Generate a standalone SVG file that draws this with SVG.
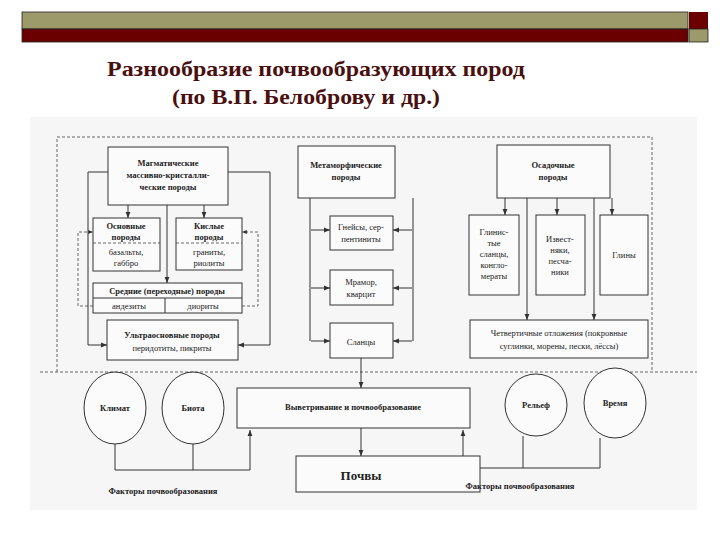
<svg xmlns="http://www.w3.org/2000/svg" width="720" height="540" viewBox="0 0 720 540">
<defs>
<marker id="a" viewBox="0 0 10 10" refX="10" refY="5" markerWidth="6" markerHeight="6" orient="auto"><path d="M0,1L10,5L0,9z" fill="#333"/></marker>
<style>
.b{fill:#fbfbfb;stroke:#333;stroke-width:1}
.l{fill:none;stroke:#333;stroke-width:1}
.d{fill:none;stroke:#444;stroke-width:0.8;stroke-dasharray:3,2}
text{font-family:'Liberation Serif','DejaVu Serif',serif;font-size:8.5px;fill:#222;text-anchor:middle}
.t{font-size:21px;font-weight:bold;fill:#4a0f0f;text-anchor:start}
.bd{font-weight:bold}
</style>
</defs>
<rect width="720" height="540" fill="#fff"/>
<rect x="22" y="12" width="666" height="17" fill="#9c9a6b" stroke="#222" stroke-width="0.8"/>
<rect x="22" y="29" width="666" height="13" fill="#6b0000" stroke="#222" stroke-width="0.8"/>
<rect x="689" y="12" width="19" height="17" fill="#6b0000"/>
<rect x="689" y="29" width="19" height="13" fill="#9c9a6b" stroke="#222" stroke-width="0.8"/>
<text class="t" x="107" y="76" textLength="418" lengthAdjust="spacingAndGlyphs">Разнообразие почвообразующих пород</text>
<text class="t" x="172" y="104" textLength="268" lengthAdjust="spacingAndGlyphs">(по В.П. Белоброву и др.)</text>
<rect x="30" y="117" width="667" height="393" fill="#f6f6f6"/>
<path class="d" d="M40,372H697M57,372V137H652V372"/>
<g id="connectors">
<path class="l" d="M108,172H88V345H107" marker-end="url(#a)"/>
<path class="l" d="M228,172H270V345H238" marker-end="url(#a)"/>
<path class="l" d="M128,205V218" marker-end="url(#a)"/>
<path class="l" d="M204,205V218" marker-end="url(#a)"/>
<path class="l" d="M167,205V283" marker-end="url(#a)"/>
<path class="d" d="M93,306H78V232H93" marker-end="url(#a)"/>
<path class="d" d="M242,306H258V232H242" marker-end="url(#a)"/>
<path class="l" d="M310,198V341M413,198V341"/>
<path class="l" d="M311,230H330" marker-end="url(#a)"/><path class="l" d="M311,288H330" marker-end="url(#a)"/><path class="l" d="M311,341H330" marker-end="url(#a)"/>
<path class="l" d="M412,230H393" marker-end="url(#a)"/><path class="l" d="M412,288H393" marker-end="url(#a)"/><path class="l" d="M412,341H393" marker-end="url(#a)"/>
<path class="l" d="M505,198V215" marker-end="url(#a)"/>
<path class="l" d="M557,198V215" marker-end="url(#a)"/>
<path class="l" d="M612,198V215" marker-end="url(#a)"/>
<path class="l" d="M527,198V320" marker-end="url(#a)"/>
<path class="l" d="M594,198V320" marker-end="url(#a)"/>
<path class="l" d="M361,358V388" marker-end="url(#a)"/>
<path class="l" d="M361,428V456" marker-end="url(#a)"/>
<path class="l" d="M115,444V470H250V430" marker-end="url(#a)"/>
<path class="l" d="M193,444V470"/>
<path class="l" d="M600,438V468H463V430" marker-end="url(#a)"/>
<path class="l" d="M523,436V468"/>
</g>
<g id="magm"><rect class="b" x="108" y="147" width="120" height="58"/><text class="bd" x="168" y="166">Магматические</text><text class="bd" x="168" y="178">массивно-кристалли-</text><text class="bd" x="168" y="190">ческие породы</text></g>
<g id="osn"><rect class="b" x="93" y="218" width="67" height="53"/><line class="d" x1="93" y1="243" x2="160" y2="243"/><text class="bd" x="126" y="229">Основные</text><text class="bd" x="126" y="240">породы</text><text x="126" y="255">базальты,</text><text x="126" y="266">габбро</text></g>
<g id="kisl"><rect class="b" x="176" y="218" width="66" height="52"/><line class="d" x1="176" y1="243" x2="242" y2="243"/><text class="bd" x="209" y="229">Кислые</text><text class="bd" x="209" y="240">породы</text><text x="209" y="255">граниты,</text><text x="209" y="266">риолиты</text></g>
<g id="sred"><rect class="b" x="93" y="283" width="149" height="30"/><line class="l" x1="93" y1="298" x2="242" y2="298"/><line class="l" x1="165" y1="298" x2="165" y2="313"/><text class="bd" x="167" y="294">Средние (переходные) породы</text><text x="129" y="309">андезиты</text><text x="203" y="309">диориты</text></g>
<g id="ultra"><rect class="b" x="107" y="320" width="131" height="40"/><text class="bd" x="172" y="338">Ультраосновные породы</text><text x="172" y="351">перидотиты, пикриты</text></g>
<g id="meta"><rect class="b" x="298" y="146" width="97" height="52"/><text class="bd" x="346" y="168">Метаморфические</text><text class="bd" x="346" y="180">породы</text></g>
<g id="gneis"><rect class="b" x="330" y="216" width="63" height="34"/><text x="361" y="230">Гнейсы, сер-</text><text x="361" y="242">пентиниты</text></g>
<g id="mram"><rect class="b" x="330" y="270" width="63" height="35"/><text x="361" y="285">Мрамор,</text><text x="361" y="297">кварцит</text></g>
<g id="slan"><rect class="b" x="330" y="323" width="63" height="35"/><text x="361" y="345">Сланцы</text></g>
<g id="osad"><rect class="b" x="497" y="145" width="113" height="53"/><text class="bd" x="553" y="168">Осадочные</text><text class="bd" x="553" y="180">породы</text></g>
<g id="glinsl"><rect class="b" x="469" y="215" width="50" height="80"/><text x="494" y="235">Глинис-</text><text x="494" y="246">тые</text><text x="494" y="257">сланцы,</text><text x="494" y="268">конгло-</text><text x="494" y="279">мераты</text></g>
<g id="izv"><rect class="b" x="536" y="215" width="49" height="80"/><text x="560" y="242">Извест-</text><text x="560" y="253">няки,</text><text x="560" y="264">песча-</text><text x="560" y="275">ники</text></g>
<g id="gliny"><rect class="b" x="600" y="215" width="48" height="80"/><text x="624" y="258">Глины</text></g>
<g id="chetv"><rect class="b" x="470" y="320" width="178" height="38"/><text x="559" y="336">Четвертичные отложения (покровные</text><text x="559" y="349">суглинки, морены, пески, лёссы)</text></g>
<g id="vyv"><rect class="b" x="237" y="388" width="233" height="40"/><text class="bd" x="353" y="410">Выветривание и почвообразование</text></g>
<g id="pochvy"><rect class="b" x="296" y="456" width="184" height="36"/><text class="bd" x="361" y="480" style="font-size:13px">Почвы</text></g>
<g id="klimat"><ellipse class="b" cx="115" cy="408" rx="31" ry="36"/><text class="bd" x="115" y="411">Климат</text></g>
<g id="biota"><ellipse class="b" cx="193" cy="408" rx="31" ry="36"/><text class="bd" x="193" y="411">Биота</text></g>
<g id="relef"><ellipse class="b" cx="536" cy="405" rx="31" ry="31"/><text class="bd" x="536" y="408">Рельеф</text></g>
<g id="vremya"><ellipse class="b" cx="615" cy="403" rx="31" ry="35"/><text class="bd" x="615" y="406">Время</text></g>
<text class="bd" x="163" y="494">Факторы почвообразования</text>
<text class="bd" x="520" y="489">Факторы почвообразования</text>
</svg>
